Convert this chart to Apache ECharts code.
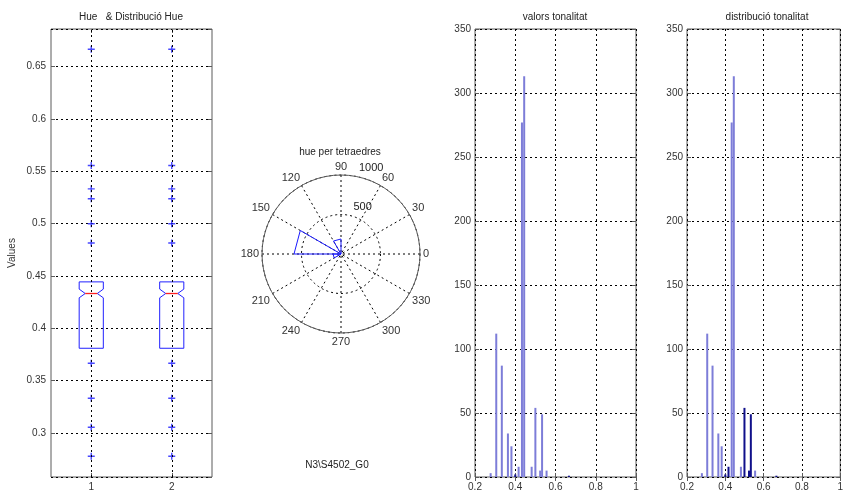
<!DOCTYPE html>
<html>
<head>
<meta charset="utf-8">
<script src="https://cdn.jsdelivr.net/npm/echarts@6/dist/echarts.min.js"></script>
<style>html,body{margin:0;padding:0;background:#fff}#c{width:846px;height:492px}</style>
</head>
<body>
<div id="c"></div>
<script>
// ---------- data ----------
const boxCategories = ['1', '2'];
const boxQ1 = [0.381, 0.381];
const boxQ3 = [0.4444, 0.4444];
const boxMedian = [0.4333, 0.4333];
const boxNotchLow = [0.4292, 0.4292];
const boxNotchHigh = [0.4375, 0.4375];
const outlierValues = [0.6667, 0.5556, 0.5333, 0.5238, 0.5, 0.4815, 0.3667, 0.3333, 0.3056, 0.2778];
const boxYRange = [0.258, 0.686];

const roseStartDeg = [90, 150, 180];
const roseEndDeg = [120, 180, 210];
const roseCounts = [190, 595, 100];
const radialTicks = [500, 1000];

const histBins = [0.2778, 0.3056, 0.3333, 0.3636, 0.381, 0.4, 0.4167, 0.4333, 0.4444, 0.4815, 0.5, 0.5238, 0.5333, 0.5556, 0.6667];
const histCounts1 = [3, 112, 87, 34, 24, 2, 8, 277, 313, 8, 54, 5, 49, 5, 1];
const histCounts2 = [3, 112, 87, 34, 24, 2, 8, 277, 313, 8, 54, 5, 49, 5, 1];

// ---------- styles ----------
const FONT = "'Liberation Sans', Arial, sans-serif";
const TXT = '#333';
const AX = '#5a5a5a';
const DOT = [2, 3];
const LIGHT = '#7d7dd8';
const DARK = '#10108a';
const darkIdx1 = [5, 14];
const darkIdx2 = [5, 6, 10, 11, 12, 14];
const RADIAL_LABEL_ANGLE = 82;

const chart = echarts.init(document.getElementById('c'), null, {renderer: 'canvas'});

const labelStyle = {fontSize: 10, color: TXT, fontFamily: FONT};
const gridLine = {show: true, lineStyle: {color: '#000', type: DOT, width: 1}};
const tickIn = {show: true, inside: true, length: 4, lineStyle: {color: AX}};

function histData(counts, darkIdx) {
  return histBins.map((b, i) => ({
    value: [b, counts[i]],
    itemStyle: {color: darkIdx.indexOf(i) >= 0 ? DARK : LIGHT}
  }));
}

const outlierData = [];
boxCategories.forEach((c, ci) => outlierValues.forEach(v => outlierData.push([ci, v])));

const boxData = boxCategories.map((c, i) => [i, boxQ1[i], boxNotchLow[i], boxMedian[i], boxNotchHigh[i], boxQ3[i]]);

const plusPath = 'path://M4,0H6V4H10V6H6V10H4V6H0V4H4Z';

function histXAxis(grid, top) {
  return {
    type: 'value', gridIndex: grid, min: 0.2, max: 1, interval: 0.2, position: top ? 'top' : 'bottom',
    axisLine: {show: false}, axisTick: tickIn,
    axisLabel: top ? {show: false} : Object.assign({margin: 5}, labelStyle),
    splitLine: top ? {show: false} : gridLine
  };
}
function histYAxis(grid, right) {
  return {
    type: 'value', gridIndex: grid, min: 0, max: 350, interval: 50, position: right ? 'right' : 'left',
    axisLine: {show: false}, axisTick: tickIn,
    axisLabel: right ? {show: false} : Object.assign({margin: 4}, labelStyle),
    splitLine: right ? {show: false} : gridLine
  };
}

const gridBase = {show: true, borderColor: AX, borderWidth: 1, backgroundColor: '#fff', containLabel: false};

const option = {
  animation: false,
  backgroundColor: '#fff',
  textStyle: {fontFamily: FONT},
  title: [
    {text: 'Hue   & Distribució Hue', left: 131, top: 12, textAlign: 'center', padding: 0,
     textStyle: {fontSize: 10, fontWeight: 'normal', color: '#222', fontFamily: FONT}},
    {text: 'hue per tetraedres', left: 340, top: 147, textAlign: 'center', padding: 0,
     textStyle: {fontSize: 10, fontWeight: 'normal', color: '#222', fontFamily: FONT}},
    {text: 'valors tonalitat', left: 555, top: 12, textAlign: 'center', padding: 0,
     textStyle: {fontSize: 10, fontWeight: 'normal', color: '#222', fontFamily: FONT}},
    {text: 'distribució tonalitat', left: 767, top: 12, textAlign: 'center', padding: 0,
     textStyle: {fontSize: 10, fontWeight: 'normal', color: '#222', fontFamily: FONT}},
    {text: 'N3\\S4502_G0', left: 337, top: 460, textAlign: 'center', padding: 0,
     textStyle: {fontSize: 10, fontWeight: 'normal', color: '#222', fontFamily: FONT}}
  ],
  grid: [
    Object.assign({left: 51, top: 29, width: 161, height: 449}, gridBase),
    Object.assign({left: 475, top: 29, width: 161, height: 449}, gridBase),
    Object.assign({left: 687, top: 29, width: 161, height: 449}, gridBase)
  ],
  polar: {center: [341, 254], radius: 79},
  angleAxis: {
    type: 'value', min: 0, max: 360, interval: 30, startAngle: 0, clockwise: false,
    axisLine: {show: true, lineStyle: {color: AX, width: 1}},
    axisTick: {show: false},
    axisLabel: Object.assign({margin: 3, formatter: v => (v === 360 ? '' : String(v))}, labelStyle, {fontSize: 11}),
    splitLine: gridLine
  },
  radiusAxis: {
    type: 'value', min: 0, max: 1000, interval: 500,
    axisLine: {show: false}, axisTick: {show: false}, axisLabel: {show: false},
    splitLine: gridLine
  },
  xAxis: [
    {type: 'category', gridIndex: 0, data: boxCategories, boundaryGap: true,
     axisLine: {show: false}, axisTick: Object.assign({alignWithLabel: true}, tickIn),
     axisLabel: Object.assign({margin: 5}, labelStyle), splitLine: {show: false}},
    {type: 'category', gridIndex: 0, data: boxCategories, boundaryGap: true, position: 'top',
     axisLine: {show: false}, axisTick: Object.assign({alignWithLabel: true}, tickIn),
     axisLabel: {show: false}, splitLine: {show: false}},
    histXAxis(1, false), histXAxis(1, true),
    histXAxis(2, false), histXAxis(2, true)
  ],
  yAxis: [
    {type: 'value', gridIndex: 0, min: boxYRange[0], max: boxYRange[1], splitNumber: 8,
     name: 'Values', nameLocation: 'middle', nameGap: 34,
     nameTextStyle: {fontSize: 10, color: TXT, fontFamily: FONT},
     axisLine: {show: false}, axisTick: tickIn,
     axisLabel: Object.assign({margin: 5, showMinLabel: false, showMaxLabel: false}, labelStyle),
     splitLine: gridLine},
    {type: 'value', gridIndex: 0, min: boxYRange[0], max: boxYRange[1], splitNumber: 8, position: 'right',
     axisLine: {show: false}, axisTick: tickIn, axisLabel: {show: false}, splitLine: {show: false}},
    histYAxis(1, false), histYAxis(1, true),
    histYAxis(2, false), histYAxis(2, true)
  ],
  series: [
    {
      type: 'custom', xAxisIndex: 0, yAxisIndex: 0, z: 3,
      data: boxData,
      renderItem: function (params, api) {
        const ci = api.value(0);
        const band = api.size([1, 0])[0];
        const hw = band * 0.15, nw = band * 0.075;
        const x = api.coord([ci, api.value(1)])[0];
        const yQ1 = api.coord([ci, api.value(1)])[1];
        const yNL = api.coord([ci, api.value(2)])[1];
        const yMed = api.coord([ci, api.value(3)])[1];
        const yNH = api.coord([ci, api.value(4)])[1];
        const yQ3 = api.coord([ci, api.value(5)])[1];
        const pts = [
          [x - hw, yQ1], [x + hw, yQ1], [x + hw, yNL], [x + nw, yMed], [x + hw, yNH], [x + hw, yQ3],
          [x - hw, yQ3], [x - hw, yNH], [x - nw, yMed], [x - hw, yNL]
        ];
        return {
          type: 'group',
          children: [
            {type: 'polygon', shape: {points: pts}, style: {fill: 'none', stroke: '#2020ff', lineWidth: 1}},
            {type: 'line', shape: {x1: x - nw, y1: yMed, x2: x + nw, y2: yMed}, style: {stroke: '#ff2020', lineWidth: 1.3}}
          ]
        };
      }
    },
    {
      type: 'scatter', xAxisIndex: 0, yAxisIndex: 0, z: 4,
      symbol: plusPath, symbolSize: 7,
      itemStyle: {color: '#1a1aff'},
      data: outlierData,
      markLine: {
        silent: true, symbol: ['none', 'none'], label: {show: false},
        lineStyle: {color: '#000', type: DOT, width: 1},
        data: boxCategories.map(c => ({xAxis: c}))
      }
    },
    {
      type: 'custom', coordinateSystem: 'polar', polarIndex: 0, z: 3,
      data: roseCounts.map((c, i) => [c, roseStartDeg[i], roseEndDeg[i]]),
      renderItem: function (params, api) {
        const r = api.value(0), a1 = api.value(1), a2 = api.value(2);
        const c = api.coord([0, a1]);
        const p1 = api.coord([r, a1]);
        const p2 = api.coord([r, a2]);
        return {type: 'polyline', shape: {points: [c, p1, p2, c]}, style: {fill: 'none', stroke: '#1a1aff', lineWidth: 1}};
      }
    },
    {
      type: 'scatter', coordinateSystem: 'polar', polarIndex: 0, z: 5,
      symbolSize: 0, itemStyle: {color: '#000', opacity: 1},
      data: radialTicks.map(r => [r, RADIAL_LABEL_ANGLE]),
      label: {show: true, position: [7, -2], align: 'left', verticalAlign: 'bottom',
        formatter: p => String(p.value[0]), fontSize: 11, color: '#222', opacity: 1, fontFamily: FONT}
    },
    {
      type: 'bar', xAxisIndex: 2, yAxisIndex: 2, barWidth: 2, z: 3,
      data: histData(histCounts1, darkIdx1)
    },
    {
      type: 'bar', xAxisIndex: 4, yAxisIndex: 4, barWidth: 2, z: 3,
      data: histData(histCounts2, darkIdx2)
    }
  ]
};
chart.setOption(option);
</script>
</body>
</html>
